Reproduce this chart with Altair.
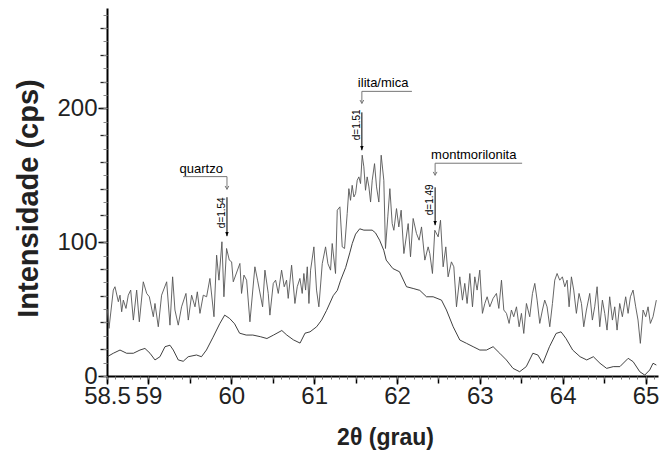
import altair as alt
import pandas as pd

# ---- upper (raw) diffractogram ----
up_t = [58.504, 58.524, 58.576, 58.596, 58.637, 58.657, 58.677, 58.697, 58.729, 58.757,
        58.786, 58.818, 58.858, 58.89, 58.938, 58.979, 59.011, 59.059, 59.079, 59.119,
        59.159, 59.22, 59.26, 59.292, 59.32, 59.36, 59.4, 59.453, 59.481, 59.521,
        59.562, 59.59, 59.622, 59.662, 59.702, 59.742, 59.791, 59.823, 59.851, 59.887,
        59.911, 59.943, 59.976, 60.004, 60.024, 60.104, 60.124, 60.153, 60.185, 60.225,
        60.285, 60.317, 60.378, 60.406, 60.446, 60.466, 60.507, 60.535, 60.567, 60.607,
        60.639, 60.667, 60.687, 60.728, 60.768, 60.796, 60.828, 60.856, 60.876, 60.897,
        60.917, 60.937, 60.957, 60.997, 61.029, 61.057, 61.098, 61.138, 61.166, 61.198,
        61.218, 61.258, 61.279, 61.311, 61.339, 61.367, 61.399, 61.419, 61.439, 61.459,
        61.48, 61.5, 61.52, 61.54, 61.56, 61.58, 61.6, 61.62, 61.64, 61.661,
        61.681, 61.701, 61.729, 61.753, 61.781, 61.809, 61.841, 61.861, 61.889, 61.914,
        61.942, 61.962, 61.994, 62.022, 62.05, 62.083, 62.135, 62.163, 62.195, 62.235,
        62.267, 62.296, 62.336, 62.376, 62.396, 62.428, 62.456, 62.497, 62.525, 62.557,
        62.589, 62.617, 62.657, 62.686, 62.718, 62.758, 62.79, 62.818, 62.846, 62.879,
        62.911, 62.939, 62.967, 62.999, 63.031, 63.06, 63.088, 63.12, 63.16, 63.2,
        63.229, 63.261, 63.289, 63.321, 63.353, 63.381, 63.409, 63.442, 63.474, 63.502,
        63.53, 63.562, 63.602, 63.635, 63.663, 63.691, 63.723, 63.755, 63.783, 63.811,
        63.844, 63.876, 63.904, 63.932, 63.964, 63.996, 64.025, 64.053, 64.077, 64.105,
        64.133, 64.165, 64.197, 64.226, 64.254, 64.286, 64.326, 64.358, 64.386, 64.415,
        64.447, 64.479, 64.507, 64.535, 64.567, 64.6, 64.628, 64.656, 64.688, 64.72,
        64.76, 64.789, 64.817, 64.849, 64.881, 64.909, 64.937, 64.97, 65.002, 65.03,
        65.058, 65.09, 65.13]
up_i = [49.3, 35.6, 64.2, 66.7, 55.5, 60.4, 48.0, 56.7, 50.5, 60.4,
        64.2, 41.8, 64.2, 40.5, 70.4, 61.7, 59.2, 44.3, 54.2, 36.8,
        60.4, 70.4, 38.0, 74.1, 49.3, 38.0, 51.7, 61.7, 41.8, 60.4,
        51.7, 62.9, 46.8, 60.4, 59.2, 72.9, 44.3, 90.3, 71.6, 100.3,
        59.2, 95.3, 86.6, 85.3, 70.4, 84.1, 61.7, 75.4, 71.6, 40.5,
        81.6, 71.6, 51.7, 79.1, 61.7, 45.5, 69.2, 71.6, 61.7, 79.1,
        66.7, 71.6, 58.0, 82.8, 54.2, 66.7, 72.9, 61.7, 76.6, 64.2,
        81.6, 54.2, 79.1, 96.5, 64.2, 51.7, 84.0, 96.5, 84.0, 79.1,
        99.0, 76.6, 123.9, 126.4, 96.5, 95.3, 121.4, 140.0, 131.3, 142.5,
        133.8, 136.3, 146.3, 148.8, 143.8, 165.0, 156.3, 138.8, 148.8, 141.3,
        130.0, 146.3, 158.7, 141.3, 130.0, 165.0, 146.3, 95.3, 118.9, 140.0,
        113.9, 108.9, 125.1, 111.4, 123.9, 91.5, 113.9, 89.1, 117.7, 106.5,
        101.5, 111.4, 86.6, 96.5, 91.5, 76.6, 108.9, 104.0, 116.4, 81.6,
        96.5, 74.1, 85.3, 81.6, 51.7, 74.1, 56.7, 69.2, 54.2, 76.6,
        51.7, 74.1, 64.2, 79.1, 46.8, 54.2, 59.2, 51.7, 58.0, 61.7,
        50.5, 71.6, 49.3, 46.8, 39.3, 49.3, 44.3, 51.7, 36.8, 46.8,
        31.8, 54.2, 44.3, 61.7, 69.2, 56.7, 39.3, 49.3, 56.7, 51.7,
        36.8, 54.2, 71.6, 76.6, 71.6, 74.1, 66.7, 71.6, 51.7, 74.1,
        64.2, 46.8, 61.7, 54.2, 36.8, 49.3, 61.7, 41.8, 51.7, 66.7,
        36.8, 56.7, 46.8, 34.3, 59.2, 41.8, 51.7, 34.3, 54.2, 44.3,
        59.2, 46.8, 59.2, 64.2, 51.7, 41.8, 24.4, 49.3, 44.3, 51.7,
        39.3, 44.3, 56.7]

# ---- lower (treated) diffractogram ----
low_t = [58.503, 58.576, 58.657, 58.737, 58.818, 58.898, 58.958, 59.019, 59.079, 59.139,
         59.2, 59.26, 59.3, 59.36, 59.42, 59.48, 59.58, 59.64, 59.7, 59.78,
         59.86, 59.92, 59.98, 60.04, 60.1, 60.18, 60.26, 60.35, 60.43, 60.51,
         60.61, 60.67, 60.75, 60.83, 60.89, 60.95, 61.03, 61.09, 61.15, 61.23,
         61.28, 61.32, 61.38, 61.43, 61.46, 61.5, 61.55, 61.6, 61.65, 61.7,
         61.74, 61.79, 61.84, 61.87, 61.95, 62.03, 62.115, 62.195, 62.275, 62.356,
         62.436, 62.537, 62.597, 62.678, 62.758, 62.839, 62.919, 63.0, 63.08, 63.16,
         63.24, 63.32, 63.4, 63.48, 63.56, 63.64, 63.7, 63.76, 63.84, 63.92,
         63.98, 64.04, 64.12, 64.21, 64.29, 64.37, 64.45, 64.53, 64.61, 64.69,
         64.79, 64.85, 64.93, 64.99, 65.05, 65.09, 65.13]
low_i = [14.4, 17.0, 19.4, 17.0, 17.0, 19.4, 20.6, 17.0, 12.0, 14.4,
         21.9, 23.0, 19.4, 12.0, 11.0, 14.4, 15.7, 14.4, 19.4, 29.0,
         39.0, 45.5, 43.0, 39.0, 32.0, 30.6, 30.6, 29.4, 28.0, 30.6,
         34.0, 30.6, 27.0, 24.6, 32.0, 33.0, 36.8, 41.8, 49.0, 60.0,
         64.0, 71.6, 81.0, 92.0, 99.0, 106.0, 110.0, 109.0, 109.0, 109.0,
         107.0, 101.5, 94.0, 86.6, 80.3, 77.9, 66.7, 65.4, 64.0, 59.2,
         59.2, 56.7, 49.3, 36.8, 26.9, 24.4, 21.9, 19.4, 19.4, 21.9,
         17.0, 12.0, 5.7, 3.2, 7.0, 17.0, 15.7, 9.5, 21.9, 31.8,
         33.0, 28.0, 19.4, 14.4, 12.0, 14.4, 9.5, 5.7, 7.0, 7.0,
         13.2, 10.7, 3.2, 0.7, 4.5, 9.5, 8.2]

# ---- annotations ----
peak_t = [59.948, 61.576, 62.46]
mineral = ["quartzo", "ilita/mica", "montmorilonita"]
d_label = ["d=1.54", "d=1.51", "d=1.49"]
label_level = [149.0, 212.7, 159.0]
label_line_end = [59.418, 62.18, 63.51]
arrow_tip = [139.5, 203.7, 150.0]
d_top = [133.6, 197.0, 141.0]
d_bottom = [104.5, 168.7, 112.7]
d_center = [122.0, 187.7, 131.7]
label_side = ["left", "right", "right"]

x_labels = [58.5, 59, 60, 61, 62, 63, 64, 65]
y_labels = [0, 100, 200]

FONT = "Liberation Sans"
xs = alt.Scale(domain=[58.5, 65.15], nice=False, zero=False)
ys = alt.Scale(domain=[0, 275], nice=False, zero=False)

up = pd.DataFrame({"t": up_t, "I": up_i})
low = pd.DataFrame({"t": low_t, "I": low_i})

half_ticks = [round(58.5 + 0.5 * k, 1) for k in range(14)]
tenth_ticks = [round(58.5 + 0.1 * k, 1) for k in range(67)]
y20 = list(range(0, 280, 20))
y10 = list(range(0, 280, 10))

main_x = alt.Axis(values=x_labels, format=".1~f", tickSize=8, tickWidth=1.5, tickColor="black",
                  domain=True, domainWidth=2, domainColor="black", grid=False,
                  labelFont=FONT, labelFontSize=24, labelColor="#222", labelPadding=0,
                  title="2θ (grau)", titleFont=FONT, titleFontSize=23, titleFontWeight="bold",
                  titleColor="#222", titleX=278, titleY=61, titleBaseline="middle",
                  titleAlign="center", orient="bottom", labelFlush=False,
                  labelOverlap=False)
main_y = alt.Axis(values=y_labels, tickSize=9, tickWidth=1.5, tickColor="black",
                  domain=True, domainWidth=2, domainColor="black", grid=False,
                  labelFont=FONT, labelFontSize=24, labelColor="#222", labelPadding=1,
                  title="Intensidade (cps)", titleFont=FONT, titleFontSize=29,
                  titleFontWeight="bold", titleColor="#222", titleX=-79, titleY=190,
                  titleAngle=270, titleBaseline="middle", titleAlign="center",
                  orient="left", labelFlush=False, labelOverlap=False)

upper_line = alt.Chart(up).mark_line(color="#555555", strokeWidth=0.9).encode(
    x=alt.X("t:Q", scale=xs, axis=main_x),
    y=alt.Y("I:Q", scale=ys, axis=main_y),
)

lower_line = alt.Chart(low).mark_line(color="#2a2a2a", strokeWidth=0.9).encode(
    x=alt.X("t:Q", scale=xs, axis=alt.Axis(values=half_ticks, tickSize=7, tickWidth=1.5,
                                            tickColor="black", labels=False, domain=False,
                                            grid=False, title="", orient="bottom")),
    y=alt.Y("I:Q", scale=ys, axis=alt.Axis(values=y20, tickSize=7, tickWidth=1.3,
                                            tickColor="#222", labels=False, domain=False,
                                            grid=False, title="", orient="left")),
)

minor = alt.Chart(low).mark_point(opacity=0, size=1).encode(
    x=alt.X("t:Q", scale=xs, axis=alt.Axis(values=tenth_ticks, tickSize=3, tickWidth=1,
                                            tickColor="#777", labels=False, domain=False,
                                            grid=False, title="", orient="bottom")),
    y=alt.Y("I:Q", scale=ys, axis=alt.Axis(values=y10, tickSize=4, tickWidth=1,
                                            tickColor="#888", labels=False, domain=False,
                                            grid=False, title="", orient="left")),
)

ann = pd.DataFrame({
    "peak": peak_t, "name": mineral, "d": d_label, "level": label_level,
    "line_end": label_line_end, "tip": arrow_tip, "d_top": d_top,
    "d_bottom": d_bottom, "d_center": d_center, "side": label_side,
})

layers = [upper_line, lower_line, minor]
for i in range(len(peak_t)):
    row = ann.iloc[[i]]
    base = alt.Chart(row)
    left = label_side[i] == "left"
    layers.append(base.mark_text(align="right" if left else "left", baseline="alphabetic",
                                 dx=-4, dy=-4, fontSize=13, font=FONT,
                                 color="black").encode(
        x=alt.X("peak:Q", scale=xs, axis=None), y=alt.Y("level:Q", scale=ys, axis=None),
        text="name:N"))
    layers.append(base.mark_rule(color="#777777", strokeWidth=1).encode(
        x=alt.X("peak:Q", scale=xs, axis=None), x2="line_end:Q",
        y=alt.Y("level:Q", scale=ys, axis=None)))
    layers.append(base.mark_rule(color="#777777", strokeWidth=1).encode(
        x=alt.X("peak:Q", scale=xs, axis=None),
        y=alt.Y("level:Q", scale=ys, axis=None), y2="tip:Q"))
    layers.append(base.mark_point(shape="M-1,-1.8L0,0L1,-1.8", filled=False, size=14,
                                  color="#777777", strokeWidth=1, opacity=1).encode(
        x=alt.X("peak:Q", scale=xs, axis=None), y=alt.Y("tip:Q", scale=ys, axis=None)))
    layers.append(base.mark_rule(color="black", strokeWidth=1).encode(
        x=alt.X("peak:Q", scale=xs, axis=None),
        y=alt.Y("d_top:Q", scale=ys, axis=None), y2="d_bottom:Q"))
    layers.append(base.mark_point(shape="M-1,-2.4L0,0L1,-2.4Z", filled=True, size=12,
                                  color="black", opacity=1).encode(
        x=alt.X("peak:Q", scale=xs, axis=None), y=alt.Y("d_bottom:Q", scale=ys, axis=None)))
    layers.append(base.mark_text(angle=270, align="center", baseline="bottom", fontSize=10,
                                 font=FONT, color="black").encode(
        x=alt.X("peak:Q", scale=xs, axis=None), y=alt.Y("d_center:Q", scale=ys, axis=None),
        text="d:N"))

chart = alt.layer(*layers).resolve_axis(x="independent", y="independent").properties(
    width=551, height=368,
    padding={"left": 107, "top": 8, "right": 10, "bottom": 76},
    autosize=alt.AutoSizeParams(type="none"),
    background="white",
).configure_view(stroke=None)

chart.save("out.html", embed_options={"renderer": "svg", "actions": False})
